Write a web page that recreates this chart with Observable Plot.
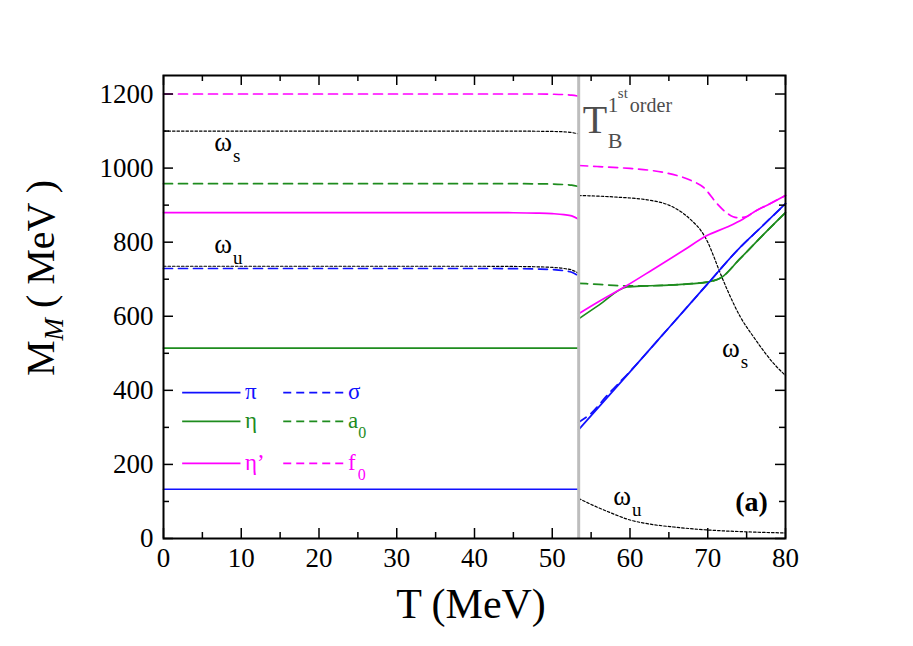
<!DOCTYPE html>
<html>
<head>
<meta charset="utf-8">
<script src="https://cdn.jsdelivr.net/npm/d3@7"></script>
<script src="https://cdn.jsdelivr.net/npm/@observablehq/plot@0.6"></script>
<style>
  html, body { margin: 0; padding: 0; background: #fff; }
  #chart { position: relative; width: 913px; height: 646px; }
</style>
</head>
<body>
<div id="chart"></div>
<script>
// ---------- data ----------
const Ttrans = 53.4;                       // first-order transition temperature T_B
const Tlow = [0, 10, 20, 30, 40, 45, 48, 50, 51.5, 52.5, 53.4];

const f0Low   = [1200, 1200, 1200, 1200, 1200, 1200, 1200, 1199.5, 1198.5, 1197, 1194];
const wsLow   = [1100, 1100, 1100, 1100, 1100, 1100, 1099.5, 1099, 1098, 1096, 1092];
const a0Low   = [958, 958, 958, 958, 958, 958, 957.5, 957, 955.5, 954, 950];
const etapLow = [880, 880, 880, 880, 880, 879.5, 878.5, 877, 874.5, 871, 862];
const wuLow   = [735, 735, 735, 735, 735, 734.5, 733.5, 732, 729, 725, 716];
const sigLow  = [729, 729, 729, 729, 729, 728.5, 727.5, 726, 723, 719, 709];
const etaLow  = [514, 514, 514, 514, 514, 514, 514, 514, 514, 514, 514];
const piLow   = [133, 133, 133, 133, 133, 133, 133, 133, 133, 133, 133];

const piT    = [53.4, 60, 65, 70, 73.8, 77, 80];
const piHigh = [294, 450, 569, 688, 778, 843, 904];
const sigT    = [53.4, 55, 57, 60, 65, 70, 73.8, 77, 80];
const sigHigh = [314, 338, 385, 451, 569, 688, 778, 843, 904];
const etaT    = [53.4, 56, 59.6, 62, 65, 68, 69.9, 71.85, 74, 77, 80];
const etaHigh = [593, 630, 679, 682, 684, 688, 692, 706, 752, 817, 880];
const a0T    = [53.4, 56, 59.6, 62, 65, 68, 69.9, 71.85, 74, 77, 80];
const a0High = [689, 686, 682, 682, 684, 688, 692, 706, 752, 817, 880];
const etapT    = [53.4, 56, 59.6, 63, 66.9, 69.9, 72.5, 74.5, 75.9, 78, 80];
const etapHigh = [607, 640, 683, 727, 778, 818, 841, 862, 881, 904, 926];
const f0T    = [53.4, 56, 60, 62.6, 65.5, 67.8, 69.5, 71.2, 72.5, 73.8, 75, 75.9, 78, 80];
const f0High = [1007, 1004, 999, 994, 983, 967, 947, 904, 878, 866, 869, 881, 904, 926];
const wsT    = [53.4, 58, 62.6, 65, 66.9, 68, 69.1, 70, 70.8, 71.5, 72.5, 74.2, 75.9, 78.5, 80];
const wsHigh = [926, 922, 913, 900, 877, 857, 832, 800, 760, 722, 672, 598, 544, 472, 440];
const wuT    = [53.4, 55, 57.1, 60, 62.5, 65.6, 70, 75, 80];
const wuHigh = [108, 92, 73, 50, 39, 31, 23, 18, 15];

const xMajor = [0, 10, 20, 30, 40, 50, 60, 70, 80];
const xMinor = [5, 15, 25, 35, 45, 55, 65, 75];
const yMajor = [0, 200, 400, 600, 800, 1000, 1200];
const yMinor = [100, 300, 500, 700, 900, 1100];

// ---------- styling ----------
const BLUE = "#1010ff", GREEN = "#1e8c1e", MAGENTA = "#ff00ff", BLACK = "#000";
const FONT = "'Liberation Serif', 'Times New Roman', serif";
const W = 913, H = 646, ML = 163, MR = 128, MT = 75, MB = 108;
const innerW = W - ML - MR, innerH = H - MT - MB;

const series = [
  {key: "ws",   low: wsLow,   T: wsT,   high: wsHigh,   color: BLACK,   kind: "dot"},
  {key: "wu",   low: wuLow,   T: wuT,   high: wuHigh,   color: BLACK,   kind: "dot"},
  {key: "eta",  low: etaLow,  T: etaT,  high: etaHigh,  color: GREEN,   kind: "solid"},
  {key: "a0",   low: a0Low,   T: a0T,   high: a0High,   color: GREEN,   kind: "dash"},
  {key: "pi",   low: piLow,   T: piT,   high: piHigh,   color: BLUE,    kind: "solid"},
  {key: "sig",  low: sigLow,  T: sigT,  high: sigHigh,  color: BLUE,    kind: "dash"},
  {key: "f0",   low: f0Low,   T: f0T,   high: f0High,   color: MAGENTA, kind: "dash"},
  {key: "etap", low: etapLow, T: etapT, high: etapHigh, color: MAGENTA, kind: "solid"}
];
const styleOf = {
  solid: {strokeWidth: 1.7},
  dash:  {strokeWidth: 1.7, strokeDasharray: "9,6"},
  dot:   {strokeWidth: 1.2, strokeDasharray: "2.5,2"}
};

const lineMarks = series.map(s => {
  const rows = [];
  Tlow.forEach((t, i) => rows.push({seg: "L", T: t, M: s.low[i]}));
  s.T.forEach((t, i) => rows.push({seg: "R", T: t, M: s.high[i]}));
  return Plot.line(rows, {x: "T", y: "M", z: "seg", stroke: s.color, curve: "monotone-x",
                          ...styleOf[s.kind]});
});

// legend (inside the frame)
const legendRows = [
  {solid: "pi",   dashed: "sig", color: BLUE,    M: 394},
  {solid: "eta",  dashed: "a0",  color: GREEN,   M: 316},
  {solid: "etap", dashed: "f0",  color: MAGENTA, M: 203}
];
const legendMarks = [
  Plot.link(legendRows, {x1: () => 2.4, x2: () => 9.9, y1: "M", y2: "M", stroke: "color", strokeWidth: 1.7}),
  Plot.link(legendRows, {x1: () => 15.4, x2: () => 23.2, y1: "M", y2: "M", stroke: "color", strokeWidth: 1.7, strokeDasharray: "8,5"})
];

const tickMarks = [
  Plot.tickX(xMajor, {x: d => d, insetTop: innerH - 10, stroke: BLACK, strokeWidth: 1.5}),
  Plot.tickX(xMinor, {x: d => d, insetTop: innerH - 6, stroke: BLACK, strokeWidth: 1.5}),
  Plot.tickX(xMajor, {x: d => d, insetBottom: innerH - 10, stroke: BLACK, strokeWidth: 1.5}),
  Plot.tickX(xMinor, {x: d => d, insetBottom: innerH - 6, stroke: BLACK, strokeWidth: 1.5}),
  Plot.tickY(yMajor, {y: d => d, insetRight: innerW - 10, stroke: BLACK, strokeWidth: 1.5}),
  Plot.tickY(yMinor, {y: d => d, insetRight: innerW - 6, stroke: BLACK, strokeWidth: 1.5}),
  Plot.tickY(yMajor, {y: d => d, insetLeft: innerW - 10, stroke: BLACK, strokeWidth: 1.5}),
  Plot.tickY(yMinor, {y: d => d, insetLeft: innerW - 6, stroke: BLACK, strokeWidth: 1.5})
];

const chart = Plot.plot({
  width: W, height: H,
  marginLeft: ML, marginRight: MR, marginTop: MT, marginBottom: MB,
  style: {fontFamily: FONT, background: "#fff", color: "#000", overflow: "visible"},
  x: {domain: [0, 80]},
  y: {domain: [0, 1250]},
  marks: [
    ...lineMarks,
    Plot.ruleX([Ttrans], {stroke: "#bdbdbd", strokeWidth: 3}),
    ...legendMarks,
    ...tickMarks,
    Plot.frame({stroke: BLACK, strokeWidth: 2}),
    Plot.axisX({ticks: xMajor, tickSize: 0, tickPadding: 9, fontSize: 27, fontFamily: FONT,
                tickFormat: d => String(d), label: null}),
    Plot.axisY({ticks: yMajor, tickSize: 0, tickPadding: 10, fontSize: 27, fontFamily: FONT,
                tickFormat: d => String(d), label: null})
  ]
});
document.getElementById("chart").appendChild(chart);
d3.select(chart).selectAll("text").attr("font-family", FONT);

// ---------- text annotations with sub/superscripts ----------
const svg = d3.select(chart);
const sx = chart.scale("x"), sy = chart.scale("y");
function addText(x, y, parts, attrs = {}) {
  const t = svg.append("text").attr("x", x).attr("y", y)
    .attr("font-family", FONT).attr("fill", attrs.fill || "#000")
    .attr("font-size", attrs.size || 24)
    .attr("text-anchor", attrs.anchor || "start");
  if (attrs.weight) t.attr("font-weight", attrs.weight);
  if (attrs.transform) t.attr("transform", attrs.transform);
  parts.forEach(p => {
    const ts = t.append("tspan").text(p.t);
    for (const k of ["x", "y", "dx", "dy"]) if (p[k] != null) ts.attr(k, p[k]);
    if (p.size) ts.attr("font-size", p.size);
    if (p.style) ts.attr("font-style", p.style);
  });
  return t;
}
function omega(T, M, sub) {
  const x = sx.apply(T), y = sy.apply(M);
  addText(x, y, [{t: "ω"}, {t: sub, size: 19, dy: 11, dx: 1}], {size: 27});
}
omega(6.6, 1045, "s");
omega(6.6, 770, "u");
omega(71.9, 489, "s");
omega(57.9, 89, "u");

addText(sx.apply(73.6), sy.apply(73), [{t: "(a)"}], {size: 28, weight: "bold"});

// T_B^{1st order}
{
  const x0 = sx.apply(54.0), y0 = sy.apply(1094);
  addText(x0, y0, [{t: "T"}], {size: 40, fill: "#4d4d4d"});
  addText(x0 + 25, y0 + 15, [{t: "B"}], {size: 22, fill: "#4d4d4d"});
  addText(x0 + 25, y0 - 21, [{t: "1"}], {size: 21, fill: "#4d4d4d"});
  addText(x0 + 35, y0 - 35, [{t: "st"}], {size: 15, fill: "#4d4d4d"});
  addText(x0 + 47, y0 - 21, [{t: "order"}], {size: 20, fill: "#4d4d4d"});
}

// legend labels
const legendLabels = [
  {parts: [{t: "π"}], col: 0, row: 0},
  {parts: [{t: "σ"}], col: 1, row: 0},
  {parts: [{t: "η"}], col: 0, row: 1},
  {parts: [{t: "a"}, {t: "0", size: 16, dy: 10}], col: 1, row: 1},
  {parts: [{t: "η’"}], col: 0, row: 2},
  {parts: [{t: "f"}, {t: "0", size: 16, dy: 10, dx: 2}], col: 1, row: 2}
];
legendLabels.forEach(l => {
  const r = legendRows[l.row];
  const x = sx.apply(l.col === 0 ? 10.55 : 23.8);
  addText(x, sy.apply(r.M) + 7, l.parts, {size: 23, fill: r.color});
});

// axis titles
addText(471, 618, [{t: "T (MeV)"}], {size: 42, anchor: "middle"});
addText(0, 0, [
  {t: "M"},
  {t: "M", size: 27, style: "italic", dy: 9},
  {t: " ( MeV )", dy: -9}
], {size: 40, anchor: "middle", transform: "translate(54,278) rotate(-90)"});
</script>
</body>
</html>
